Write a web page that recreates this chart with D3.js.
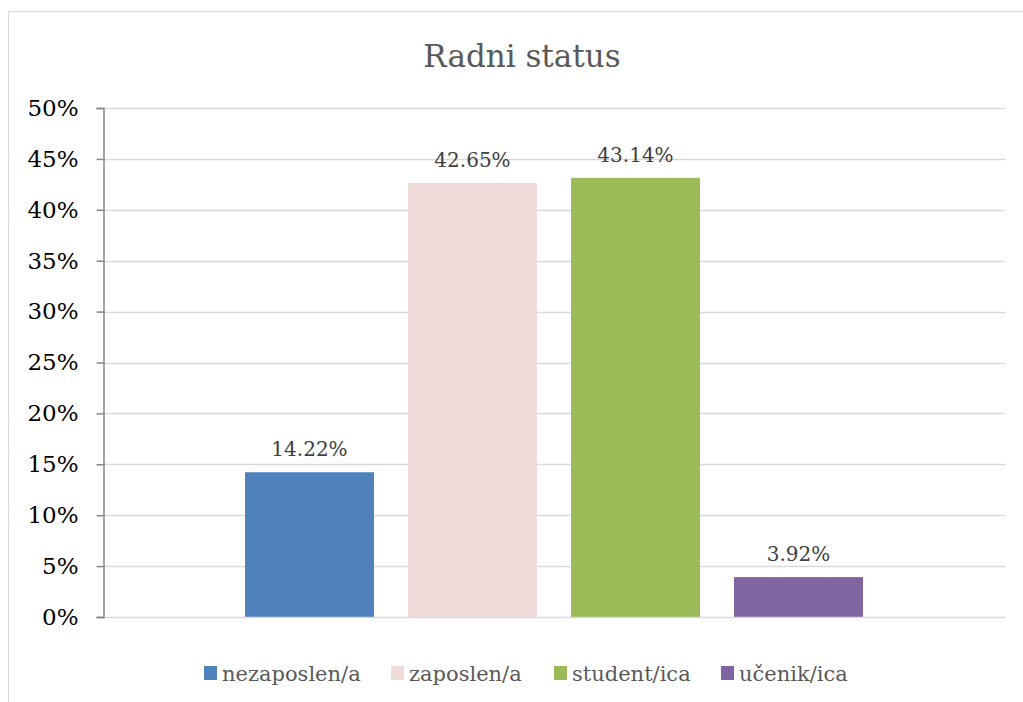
<!DOCTYPE html>
<html><head><meta charset="utf-8">
<script src="https://cdn.jsdelivr.net/npm/d3@7"></script>
<style>body{margin:0;background:#fff;} svg{display:block;}</style>
</head><body>
<script>
const categories = ["nezaposlen/a", "zaposlen/a", "student/ica", "učenik/ica"];
const values = [14.22, 42.65, 43.14, 3.92];
const colors = ["#4F81BD", "#F2DCDB", "#9BBB59", "#8064A2"];
const yTicks = [0, 5, 10, 15, 20, 25, 30, 35, 40, 45, 50];
const title = "Radni status";

const W = 1023, H = 702;
const font = "'DejaVu Serif', serif";
const svg = d3.select("body").append("svg").attr("width", W).attr("height", H);

svg.append("rect").attr("x", 8.5).attr("y", 11.5).attr("width", W + 10).attr("height", H + 10)
  .attr("fill", "#fff").attr("stroke", "#D9D9D9");

const plot = {l: 103, r: 1005, t: 108, b: 617};
const y = d3.scaleLinear().domain([0, 50]).range([plot.b, plot.t]);
const outer = d3.scaleBand().domain(["g"]).range([plot.l, plot.r]).paddingInner(0).paddingOuter(0.2298);
const x = d3.scaleBand().domain(categories).range([outer("g"), outer("g") + outer.bandwidth()]).paddingInner(0.209).paddingOuter(0);

// gridlines
svg.append("g").selectAll("line").data(yTicks.filter(d => d > 0)).join("line")
  .attr("x1", plot.l).attr("x2", plot.r)
  .attr("y1", d => Math.round(y(d)) + 0.5).attr("y2", d => Math.round(y(d)) + 0.5)
  .attr("stroke", "#D9D9D9").attr("stroke-width", 1.5);

// bars
svg.append("g").selectAll("rect").data(values).join("rect")
  .attr("x", (d, i) => x(categories[i])).attr("width", x.bandwidth())
  .attr("y", d => y(d)).attr("height", d => y(0) - y(d))
  .attr("fill", (d, i) => colors[i]);

// x axis line
svg.append("line").attr("x1", plot.l).attr("x2", plot.r)
  .attr("y1", plot.b + 0.5).attr("y2", plot.b + 0.5).attr("stroke", "#D9D9D9").attr("stroke-width", 1.5);

// y axis
const yAxis = d3.axisLeft(y).tickValues(yTicks).tickSize(7).tickPadding(18).tickFormat(d => d + "%");
const ga = svg.append("g").attr("transform", `translate(${plot.l + 0.5},0)`).call(yAxis);
ga.select(".domain").attr("stroke", "#868686").attr("stroke-width", 1.5);
ga.selectAll(".tick line").attr("stroke", "#868686").attr("stroke-width", 1.5);
ga.selectAll(".tick text").attr("font-family", font).attr("font-size", 23).attr("fill", "#000");

// data labels
svg.append("g").selectAll("text").data(values).join("text")
  .attr("x", (d, i) => x(categories[i]) + x.bandwidth() / 2)
  .attr("y", d => y(d) - 16)
  .attr("text-anchor", "middle").attr("font-family", font).attr("font-size", 20).attr("fill", "#404040")
  .text(d => d.toFixed(2) + "%");

// title
svg.append("text").attr("x", 522).attr("y", 67).attr("text-anchor", "middle")
  .attr("font-family", font).attr("font-size", 31).attr("fill", "#595959").text(title);

// legend
const legX = [204, 391, 554, 721];
const lg = svg.append("g").selectAll("g").data(categories).join("g")
  .attr("transform", (d, i) => `translate(${legX[i]},0)`);
lg.append("rect").attr("x", 0).attr("y", 666).attr("width", 13).attr("height", 14).attr("fill", (d, i) => colors[i]);
lg.append("text").attr("x", 18).attr("y", 681).attr("font-family", font).attr("font-size", 21).attr("fill", "#595959").text(d => d);
</script>
</body></html>
